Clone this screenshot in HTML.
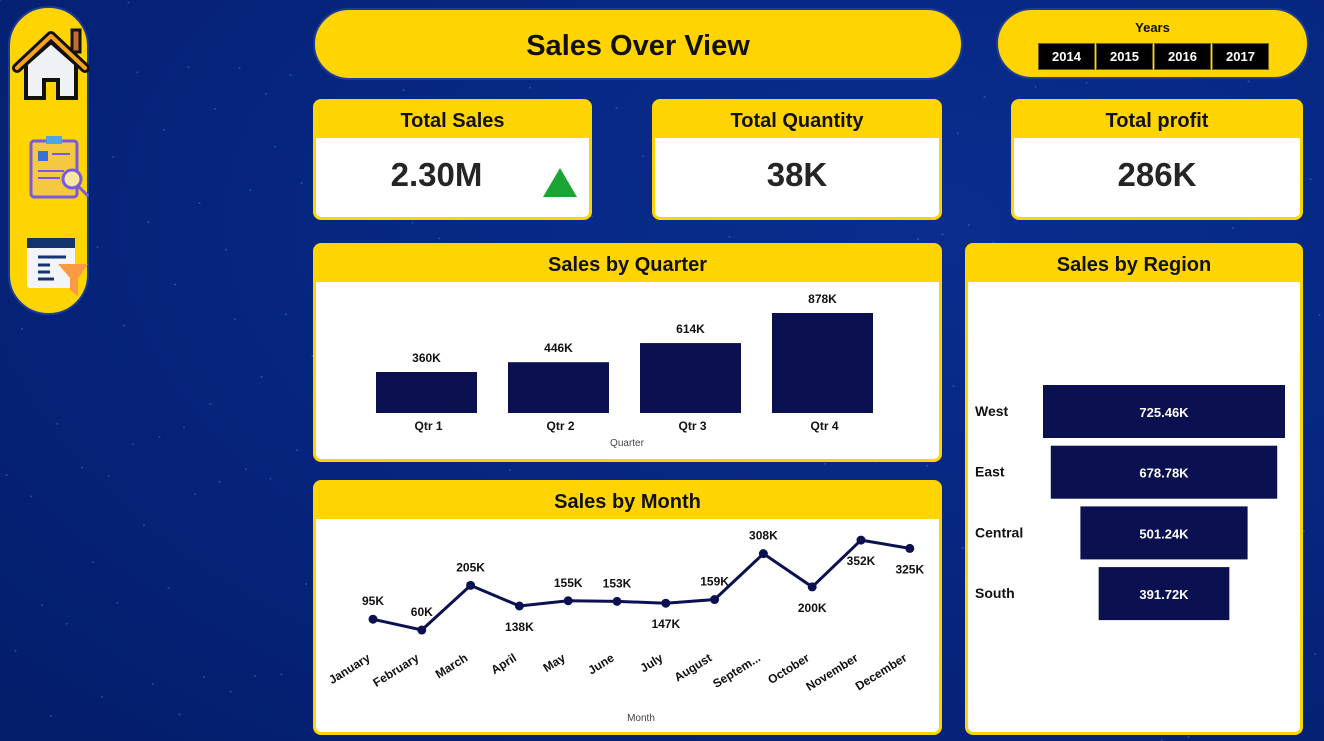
<!DOCTYPE html>
<html><head><meta charset="utf-8">
<style>
*{box-sizing:border-box;margin:0;padding:0}
body{width:1324px;height:741px;overflow:hidden;font-family:"Liberation Sans","DejaVu Sans",sans-serif;
background:radial-gradient(ellipse at 70% 30%,#0a2d8e 0%,#062680 45%,#041d6a 100%);position:relative}
.abs{position:absolute}
.pill{background:#FFD400;border:2px solid #1a3d9a}
.card{position:absolute;background:#fff;border:3px solid #FFD400;border-radius:8px;overflow:hidden}
.hdr{background:#FFD400;height:36px;text-align:center;font-weight:bold;font-size:20px;line-height:38px;color:#111}
.val{text-align:center;font-weight:bold;font-size:33px;color:#252525}
.yr{position:absolute;top:43px;width:57px;height:27px;background:#000;border:1px solid #6b5c10;color:#fff;font-weight:bold;font-size:13px;text-align:center;line-height:25px}
svg text{font-family:"Liberation Sans",sans-serif}
</style></head><body>
<svg class="abs" style="left:0;top:0" width="1324" height="741">
<g fill="#3d7ad8" opacity="0.5" id="dots"></g></svg>

<div class="abs pill" style="left:8px;top:6px;width:81px;height:309px;border-radius:40px">
 <svg width="81" height="309" style="position:absolute;left:-2px;top:-2px">
  <g transform="translate(0,6)">
   <rect x="64" y="18" width="8" height="22" fill="#c56b3a" stroke="#111" stroke-width="3"/>
   <path d="M18 52 L18 86 L36 86 L36 68 L50 68 L50 86 L68 86 L68 52 L43 30 Z" fill="#eef2f5" stroke="#111" stroke-width="4"/>
   <path d="M9 56 L43 24 L77 56" fill="none" stroke="#111" stroke-width="10" stroke-linejoin="round" stroke-linecap="round"/>
   <path d="M9 56 L43 24 L77 56" fill="none" stroke="#f7a21b" stroke-width="4" stroke-linejoin="round" stroke-linecap="round"/>
  </g>
  <g>
   <rect x="23" y="135" width="46" height="56" rx="3" fill="#f5c842" stroke="#7a58e6" stroke-width="3"/>
   <rect x="38" y="130" width="16" height="8" fill="#4aa6e8"/>
   <rect x="30" y="145" width="10" height="10" fill="#3b6fd8"/>
   <line x1="44" y1="148" x2="62" y2="148" stroke="#7a58e6" stroke-width="2"/>
   <line x1="30" y1="165" x2="56" y2="165" stroke="#7a58e6" stroke-width="2"/>
   <line x1="30" y1="172" x2="52" y2="172" stroke="#7a58e6" stroke-width="2"/>
   <circle cx="64" cy="173" r="9" fill="#f5e6a0" stroke="#7a58e6" stroke-width="3"/>
   <line x1="70" y1="180" x2="80" y2="190" stroke="#7a58e6" stroke-width="3"/>
  </g>
  <g>
   <rect x="19" y="232" width="48" height="50" rx="3" fill="#f2f4fa"/>
   <rect x="19" y="232" width="48" height="10" fill="#13346f"/>
   <line x1="30" y1="251" x2="58" y2="251" stroke="#13346f" stroke-width="3"/>
   <line x1="30" y1="259" x2="42" y2="259" stroke="#13346f" stroke-width="3"/>
   <line x1="30" y1="266" x2="42" y2="266" stroke="#13346f" stroke-width="3"/>
   <line x1="30" y1="273" x2="46" y2="273" stroke="#13346f" stroke-width="3"/>
   <path d="M50 258 L80 258 L70 272 L70 290 L62 284 L62 272 Z" fill="#fb9a45"/>
  </g>
 </svg>
</div>

<div class="abs pill" style="left:313px;top:8px;width:650px;height:72px;border-radius:36px;text-align:center;font-weight:bold;font-size:29px;line-height:72px;color:#111">Sales Over View</div>

<div class="abs pill" style="left:996px;top:8px;width:313px;height:71px;border-radius:36px">
 <div class="abs" style="left:0;top:10px;width:309px;text-align:center;font-weight:bold;font-size:13px;color:#111">Years</div>
</div>
<div class="yr" style="left:1038px">2014</div>
<div class="yr" style="left:1096px">2015</div>
<div class="yr" style="left:1154px">2016</div>
<div class="yr" style="left:1212px">2017</div>

<div class="card" style="left:313px;top:99px;width:279px;height:121px">
 <div class="hdr">Total Sales</div>
 <div class="val" style="line-height:74px;margin-left:-32px">2.30M</div>
 <svg class="abs" style="left:226px;top:64px" width="36" height="32"><path d="M18 2 L35 31 L1 31 Z" fill="#19a534"/></svg>
</div>
<div class="card" style="left:652px;top:99px;width:290px;height:121px">
 <div class="hdr">Total Quantity</div>
 <div class="val" style="line-height:74px">38K</div>
</div>
<div class="card" style="left:1011px;top:99px;width:292px;height:121px">
 <div class="hdr">Total profit</div>
 <div class="val" style="line-height:74px">286K</div>
</div>

<div class="card" style="left:313px;top:243px;width:629px;height:219px">
 <div class="hdr">Sales by Quarter</div>
</div>
<div class="card" style="left:313px;top:480px;width:629px;height:255px">
 <div class="hdr">Sales by Month</div>
</div>
<div class="card" style="left:965px;top:243px;width:338px;height:492px">
 <div class="hdr">Sales by Region</div>
</div>

<svg class="abs" style="left:0;top:0;pointer-events:none" width="1324" height="741" id="charts"></svg>

<script>
const quarterCats=["Qtr 1","Qtr 2","Qtr 3","Qtr 4"];
const quarterVals=[360,446,614,878];
const quarterLabels=["360K","446K","614K","878K"];
const monthCats=["January","February","March","April","May","June","July","August","Septem...","October","November","December"];
const monthVals=[95,60,205,138,155,153,147,159,308,200,352,325];
const monthLabels=["95K","60K","205K","138K","155K","153K","147K","159K","308K","200K","352K","325K"];
const monthLabelBelow=[false,false,false,true,false,false,true,false,false,true,true,true];
const regionCats=["West","East","Central","South"];
const regionVals=[725.46,678.78,501.24,391.72];
const regionLabels=["725.46K","678.78K","501.24K","391.72K"];

const NS="http://www.w3.org/2000/svg";
const svg=document.getElementById('charts');
function mk(tag,attrs,txt){const e=document.createElementNS(NS,tag);for(const k in attrs)e.setAttribute(k,attrs[k]);if(txt!==undefined)e.textContent=txt;svg.appendChild(e);return e;}
const NAVY="#0b1150";

const dg=document.getElementById('dots');
for(let i=0;i<260;i++){const x=(i*137.5)%1324,y=(i*71.3+ (i*i)%97)%741;
 const c=document.createElementNS(NS,'circle');c.setAttribute('cx',x.toFixed(1));c.setAttribute('cy',y.toFixed(1));c.setAttribute('r',1);dg.appendChild(c);}

// quarter
const qBase=413, qScale=100/878;
const qX=i=>376+i*132, qW=101;
quarterCats.forEach((c,i)=>{
 const h=quarterVals[i]*qScale;
 const r=mk('rect',{x:qX(i),y:qBase-h,width:qW,height:h,fill:NAVY});
 
 
 const t=mk('text',{x:qX(i)+qW/2,y:qBase-h-10,'text-anchor':'middle','font-size':12,'font-weight':'bold',fill:'#111'},quarterLabels[i]);
 
 
 const l=mk('text',{x:qX(i)+qW/2+2,y:430,'text-anchor':'middle','font-size':12,'font-weight':'bold',fill:'#111'},c);
 
 
});
const qt=mk('text',{x:627,y:446,'text-anchor':'middle','font-size':10,fill:'#444'},'Quarter');



// month
const mX=i=>373+i*48.8, mY=v=>648.5-v*0.308;
let d="";monthVals.forEach((v,i)=>{d+=(i?"L":"M")+mX(i)+" "+mY(v)+" ";});
const ln=mk('path',{d:d,fill:'none',stroke:NAVY,'stroke-width':3});


monthVals.forEach((v,i)=>{
 const p=mk('circle',{cx:mX(i),cy:mY(v),r:4.5,fill:NAVY});
 
 
 const ty=monthLabelBelow[i]?mY(v)+25:mY(v)-14;
 const t=mk('text',{x:mX(i),y:ty,'text-anchor':'middle','font-size':12,'font-weight':'bold',fill:'#111'},monthLabels[i]);
 
 
 const l=mk('text',{x:mX(i)-2,y:660,'text-anchor':'end','font-size':12,'font-weight':'bold',fill:'#111',transform:`rotate(-32 ${mX(i)-2} 660)`},monthCats[i]);
 
 
});
const mt=mk('text',{x:641,y:721,'text-anchor':'middle','font-size':10,fill:'#444'},'Month');



// region funnel
const rCenter=1164, rScale=242/725.46;
regionCats.forEach((c,i)=>{
 const w=regionVals[i]*rScale, y=385+i*60.7;
 const r=mk('rect',{x:rCenter-w/2,y:y,width:w,height:53,fill:NAVY});
 
 
 const t=mk('text',{x:rCenter,y:y+32,'text-anchor':'middle','font-size':13,'font-weight':'bold',fill:'#fff'},regionLabels[i]);
 
 
 const l=mk('text',{x:975,y:y+31,'font-size':14,'font-weight':'bold',fill:'#111'},c);
 
 
});
</script>
</body></html>
